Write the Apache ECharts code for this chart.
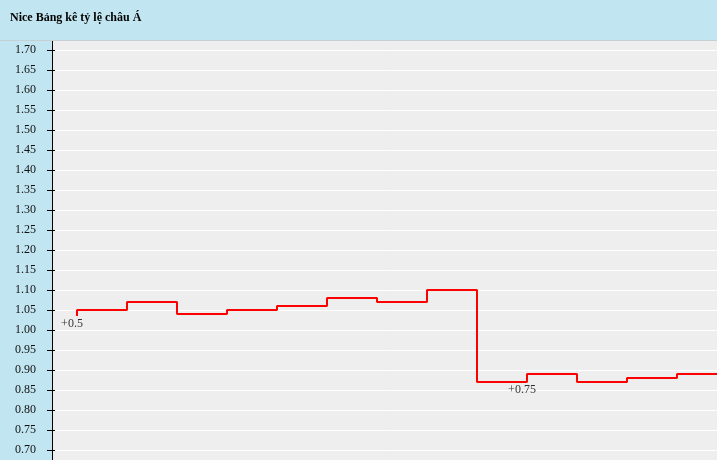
<!DOCTYPE html>
<html>
<head>
<meta charset="utf-8">
<script src="https://cdn.jsdelivr.net/npm/echarts@6/dist/echarts.min.js"></script>
<style>
html,body{margin:0;padding:0;background:#C1E6F1;}
#c{width:717px;height:460px;}
</style>
</head>
<body>
<div id="c"></div>
<script>
// Data
const titleText = 'Nice Bảng kê tỷ lệ châu Á';
const stepIndex = [0, 1, 2, 3, 4, 5, 6, 7, 8, 9, 10, 11, 12, 13];
const oddsValues = [1.05, 1.07, 1.04, 1.05, 1.06, 1.08, 1.07, 1.10, 0.87, 0.89, 0.87, 0.88, 0.89, 0.89];
const openingValue = 1.035;
const handicapIndex = [0, 9];
const handicapValue = [1.035, 0.87];
const handicapText = ['+0.5', '+0.75'];

const lineData = [[stepIndex[0], openingValue]].concat(stepIndex.map((x, i) => [x, oddsValues[i]]));
const markerData = handicapIndex.map((x, i) => ({ value: [x, handicapValue[i]], label: { formatter: handicapText[i] } }));

const chart = echarts.init(document.getElementById('c'), null, { renderer: 'canvas' });
const font = 'Liberation Serif';
const yCommon = { type: 'value', min: 0.65, max: 1.75, interval: 0.05, position: 'left' };
chart.setOption({
  animation: false,
  backgroundColor: '#C1E6F1',
  grid: { left: 52, right: 0, top: 30, height: 440, show: true, backgroundColor: '#EEEEEE', borderWidth: 0,
    outerBoundsMode: 'none', containLabel: false },
  xAxis: { type: 'value', min: -0.5, max: 12.8, show: false },
  yAxis: [
    Object.assign({}, yCommon, {
      axisLine: { show: true, onZero: false, lineStyle: { color: '#000', width: 1 } },
      axisTick: { show: true, inside: false, length: 5, lineStyle: { color: '#000', width: 1 } },
      axisLabel: { show: true, color: '#111', fontFamily: font, fontSize: 12, margin: 16,
        formatter: v => v.toFixed(2), padding: [0, 0, 5, 0] },
      splitLine: { show: true, lineStyle: { color: '#FFFFFF', width: 1 } }
    }),
    Object.assign({}, yCommon, {
      axisLine: { show: false, onZero: false },
      axisTick: { show: true, inside: true, length: 3, lineStyle: { color: '#000', width: 1 } },
      axisLabel: { show: false },
      splitLine: { show: false }
    })
  ],
  series: [
    {
      type: 'line', step: 'end', data: lineData, showSymbol: false, symbol: 'none',
      lineStyle: { color: '#FF0000', width: 2 }, clip: true, z: 3
    },
    {
      type: 'scatter', data: markerData, symbolSize: 0, z: 4,
      label: { show: true, position: 'bottom', distance: 2, offset: [-5, 0],
        color: '#000', fontFamily: font, fontSize: 12 }
    }
  ],
  graphic: [
    { type: 'rect', shape: { x: 0, y: 0, width: 717, height: 40 }, style: { fill: '#C1E6F1' }, z: 100 },
    { type: 'line', shape: { x1: 0, y1: 40.5, x2: 717, y2: 40.5 }, style: { stroke: '#C6CFD2', lineWidth: 1 }, z: 100 },
    { type: 'text', x: 10, y: 18, style: { text: titleText, fill: '#000', font: 'bold 12px "Liberation Serif"', verticalAlign: 'middle' }, z: 101 }
  ]
});
</script>
</body>
</html>
